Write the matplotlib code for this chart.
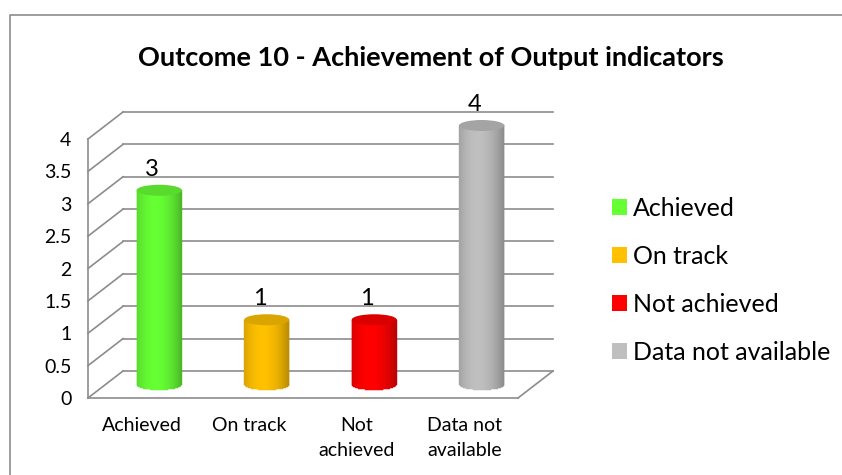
import numpy as np
import matplotlib
matplotlib.use("Agg")
import matplotlib.pyplot as plt
from matplotlib.transforms import ScaledTranslation
from matplotlib.patches import Ellipse, Rectangle
from matplotlib.collections import PolyCollection
from matplotlib.lines import Line2D
import matplotlib.colors as mcolors

# dados do gráfico
categorias = ["Achieved", "On track", "Not achieved", "Data not available"]
rotulos_x = ["Achieved", "On track", "Not\nachieved", "Data not\navailable"]
valores = [3, 1, 1, 4]
cores = ["#66FF33", "#FFC000", "#FF0000", "#BFBFBF"]
ticks_y = [0, 0.5, 1, 1.5, 2, 2.5, 3, 3.5, 4]

plt.rcParams["font.family"] = ["Lato", "DejaVu Sans"]
cinza = "#8C8C8C"

fig = plt.figure(figsize=(8.42, 4.75), dpi=100)
ax = fig.add_axes([88 / 842, 77 / 475, 430 / 842, 259 / 475])
ax.set_xlim(-0.5, 3.5)
ax.set_ylim(0, 4)
for s in ax.spines.values():
    s.set_visible(False)
ax.patch.set_visible(False)

# deslocamentos de profundidade (pseudo 3D)
fundo = ax.transData + ScaledTranslation(0.35, 0.27, fig.dpi_scale_trans)
meio = ax.transData + ScaledTranslation(0.175, 0.135, fig.dpi_scale_trans)

def diagonal(x, y):
    # liga a frente ao fundo
    x0, y0 = ax.transData.transform((x, y))
    x1, y1 = fundo.transform((x, y))
    fig.add_artist(Line2D([x0 / fig.bbox.width, x1 / fig.bbox.width],
                          [y0 / fig.bbox.height, y1 / fig.bbox.height],
                          color=cinza, lw=1.2, zorder=1))

# parede do fundo, parede lateral e chão
for v in ticks_y:
    ax.plot([-0.5, 3.5], [v, v], color=cinza, lw=1.2, transform=fundo, clip_on=False, zorder=1)
    diagonal(-0.5, v)
ax.plot([-0.5, -0.5], [0, 4], color=cinza, lw=1.2, clip_on=False, zorder=1)
ax.plot([-0.5, 3.5], [0, 0], color=cinza, lw=1.2, clip_on=False, zorder=1)
diagonal(3.5, 0)

# cilindros
larg = 0.42
b = 5.5 / 64.75
n = 60
for i, (v, c) in enumerate(zip(valores, cores)):
    base = np.array(mcolors.to_rgb(c))
    polys, cols = [], []
    for k in range(n):
        u0, u1 = k / n, (k + 1) / n
        um = (u0 + u1) / 2
        t = 2 * um - 1
        xa = i - larg / 2 + u0 * larg
        xb = i - larg / 2 + u1 * larg
        yb = -b * np.sqrt(max(0, 1 - t * t))
        polys.append([(xa, yb), (xb, yb), (xb, v), (xa, v)])
        f = 0.70 + 0.30 * (1 - ((um - 0.42) / 0.58) ** 2)
        cols.append(np.clip(base * f + (1 - f) * 0.05, 0, 1))
    pc = PolyCollection(polys, facecolors=cols, edgecolors=cols, linewidths=0.3,
                        transform=meio, clip_on=False, zorder=3)
    ax.add_collection(pc)
    ax.add_patch(Ellipse((i, v), larg, 2 * b, facecolor=np.clip(base * 0.86, 0, 1),
                         edgecolor="none", transform=meio, clip_on=False, zorder=4))
    ax.annotate(str(v), (i, v), xycoords=meio, xytext=(-5, 15), textcoords="offset points",
                ha="center", va="center", fontsize=17, zorder=5)

ax.set_yticks(ticks_y)
ax.set_yticklabels([f"{t:g}" for t in ticks_y])
ax.set_xticks(range(len(categorias)))
ax.set_xticklabels(rotulos_x, linespacing=1.55)
ax.tick_params(axis="both", length=0, labelsize=14)
ax.tick_params(axis="y", pad=12)
ax.tick_params(axis="x", pad=14)

fig.text(431 / 842, 1 - 58 / 475, "Outcome 10 - Achievement of Output indicators",
         ha="center", va="center", fontsize=19.5, fontweight="bold")

handles = [Rectangle((0, 0), 1, 1, facecolor=c, edgecolor="none") for c in cores]
fig.legend(handles, categorias, loc="center left", bbox_to_anchor=(612 / 842, 1 - 280.5 / 475),
           frameon=False, fontsize=18, handlelength=0.6, handleheight=0.6,
           handletextpad=0.25, labelspacing=1.0, borderpad=0, borderaxespad=0)

# moldura
fig.add_artist(Line2D([10 / 842, 10 / 842, 1], [0, 1 - 15 / 475, 1 - 15 / 475], color="#8C8C8C", lw=1.2))

fig.savefig("out.png", dpi=100)
